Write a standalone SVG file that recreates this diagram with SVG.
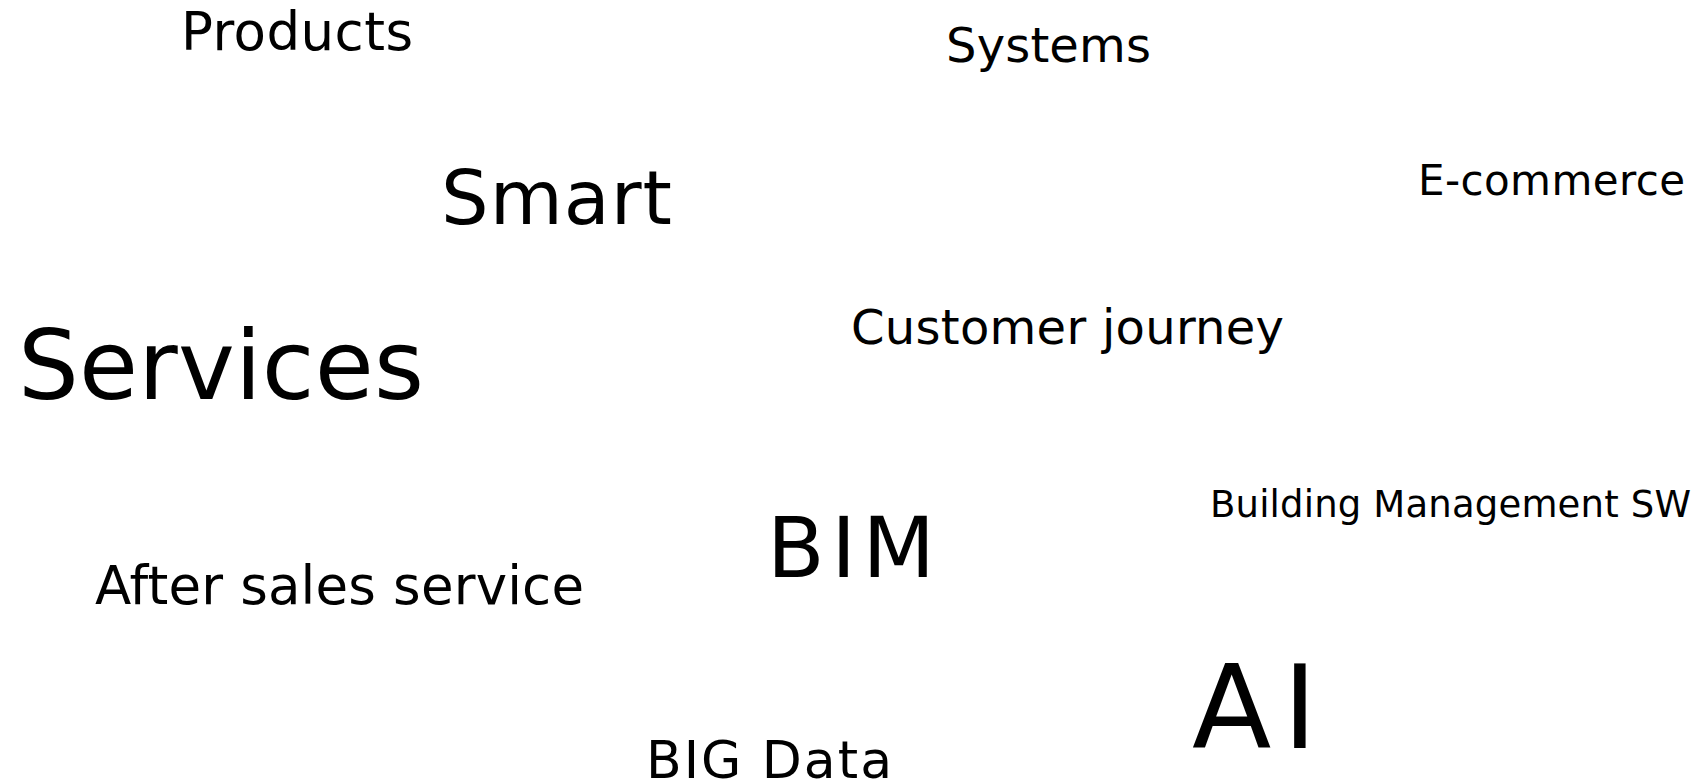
<svg xmlns="http://www.w3.org/2000/svg" width="1701" height="783" viewBox="0 0 1701 783">
<style>
text { font-family: "DejaVu Sans", Verdana, sans-serif; fill: #000; }
</style>
<rect width="1701" height="783" fill="#fff"/>
<g id="products"><text x="181" y="50" font-size="53" textLength="232">Products</text></g>
<g id="systems"><text x="946" y="62" font-size="48" textLength="205">Systems</text></g>
<g id="smart"><text x="441" y="224" font-size="75" textLength="231">Smart</text></g>
<g id="ecommerce"><text x="1418" y="195" font-size="42" textLength="267">E-commerce</text></g>
<g id="customer-journey"><text x="851" y="344" font-size="48" textLength="433">Customer journey</text></g>
<g id="services"><text x="18" y="399" font-size="96" textLength="406">Services</text></g>
<g id="building-management"><text x="1210" y="517" font-size="37" textLength="481">Building Management SW</text></g>
<g id="bim"><text x="767" y="577" font-size="84" textLength="168">BIM</text></g>
<g id="after-sales"><text x="95" y="604" font-size="53" textLength="489">After sales service</text></g>
<g id="ai"><text x="1192" y="748" font-size="116" textLength="125">AI</text></g>
<g id="big-data"><text x="646" y="778" font-size="52" textLength="246">BIG Data</text></g>
<g id="connectors"></g>
</svg>
